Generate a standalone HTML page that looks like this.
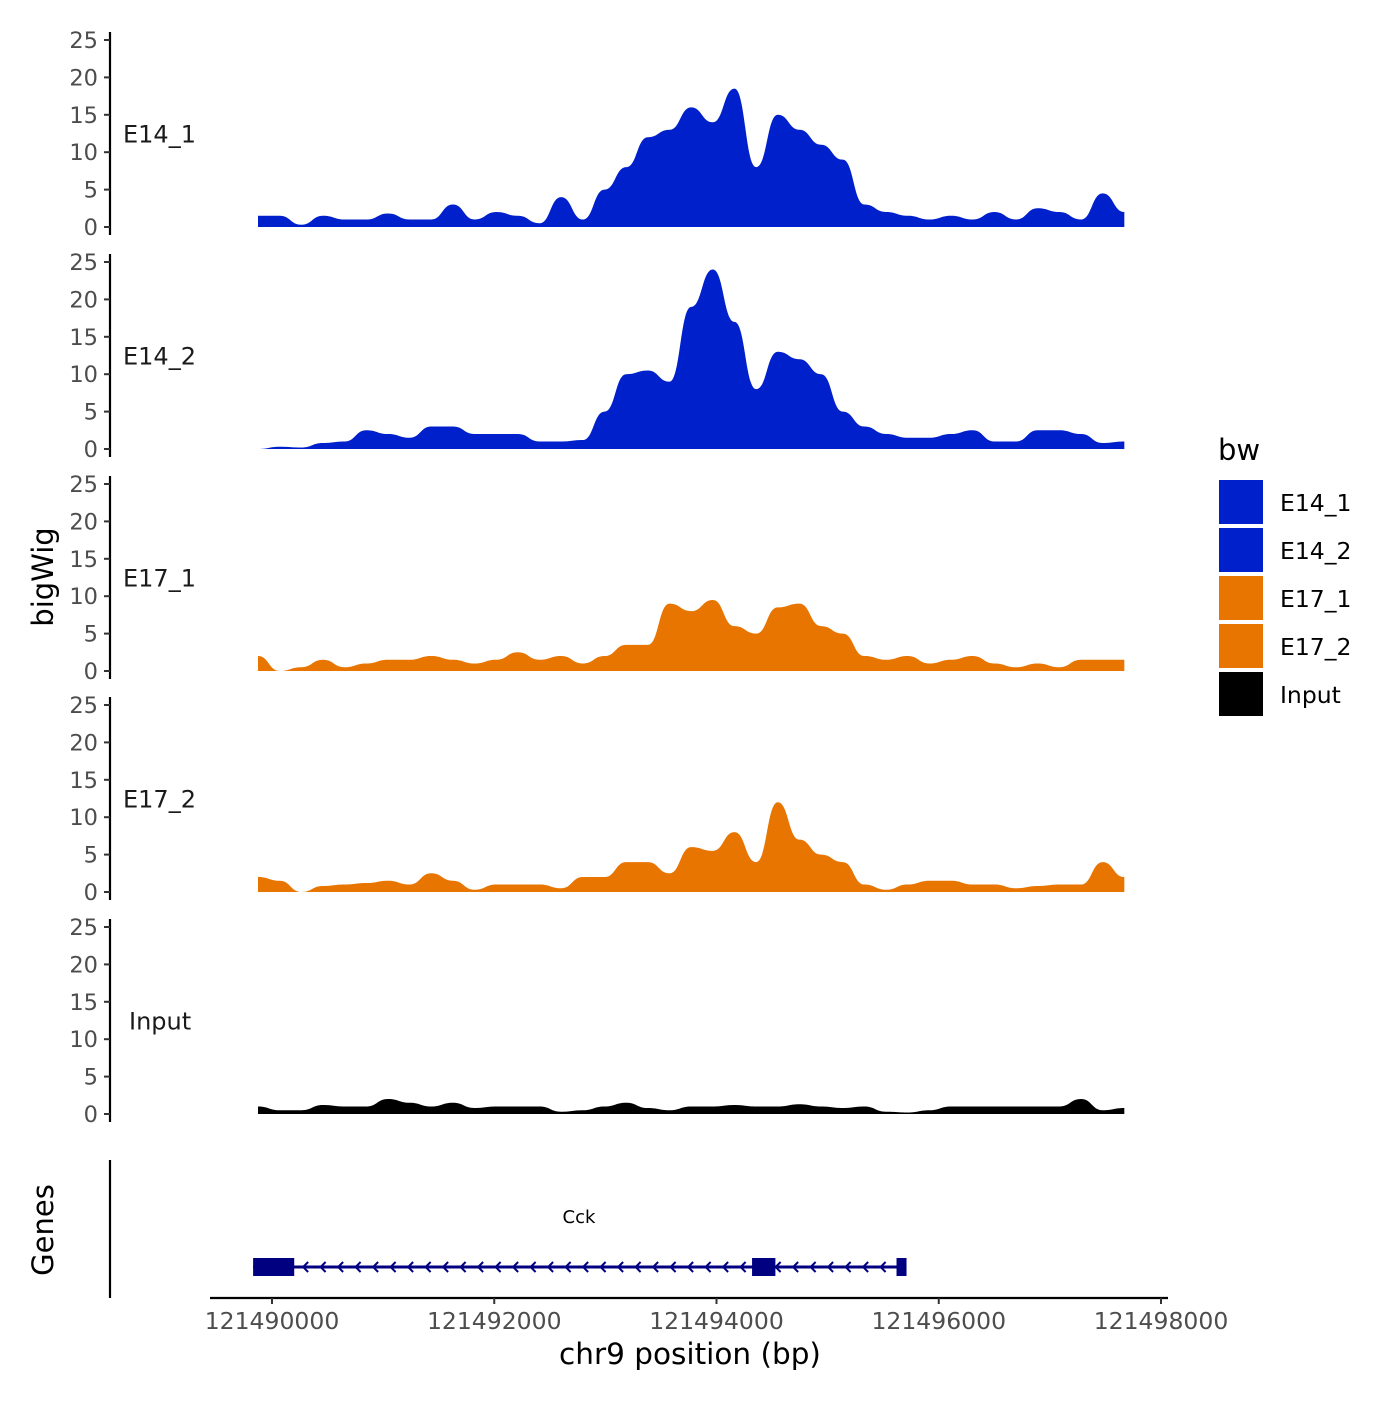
<!DOCTYPE html>
<html><head><meta charset="utf-8">
<style>
body{margin:0;background:#fff;}
svg text{font-family:"DejaVu Sans","Liberation Sans",sans-serif;}
</style></head>
<body>
<svg id="chart" width="1400" height="1400" xmlns="http://www.w3.org/2000/svg">
<rect width="1400" height="1400" fill="#fff"/>
</svg>
<script>
const trackNames = ["E14_1","E14_2","E17_1","E17_2","Input"];
const trackColors = ["#0020CC","#0020CC","#E87500","#E87500","#000000"];
const yTicks = [0,5,10,15,20,25];
const xTicks = [121490000,121492000,121494000,121496000,121498000];
const startBp = 121489874, endBp = 121497670;
const e14_1 = [1.5,1.5,0.3,1.5,1,1,1.8,1,1,3,1,2,1.5,0.5,4,1,5,8,12,13,16,14,18.5,8,15,13,11,9,3,2,1.5,1,1.5,1,2,1,2.5,2,1,4.5,2];
const e14_2 = [0,0.3,0.2,0.8,1,2.5,2,1.5,3,3,2,2,2,1,1,1.2,5,10,10.5,9,19,24,17,8,13,12,10,5,3,2,1.5,1.5,2,2.5,1,1,2.5,2.5,2,0.8,1];
const e17_1 = [2,0,0.5,1.5,0.5,1,1.5,1.5,2,1.5,1,1.5,2.5,1.5,2,1,2,3.5,3.5,9,8,9.5,6,5,8.5,9,6,5,2,1.5,2,1,1.5,2,1,0.5,1,0.5,1.5,1.5,1.5];
const e17_2 = [2,1.5,0,0.8,1,1.2,1.5,1,2.5,1.5,0.3,1,1,1,0.5,2,2,4,4,2.5,6,5.5,8,4,12,7,5,4,1,0.3,1,1.5,1.5,1,1,0.5,0.8,1,1,4,2];
const input = [1,0.5,0.5,1.2,1,1,2,1.5,1,1.5,0.8,1,1,1,0.3,0.5,1,1.5,0.8,0.5,1,1,1.2,1,1,1.3,1,0.8,1,0.3,0.2,0.5,1,1,1,1,1,1,2,0.5,0.8];
const series = [e14_1,e14_2,e17_1,e17_2,input];
const geneStart = 121489830, geneEnd = 121495710;
const exons = [[121489830,121490200],[121494320,121494530],[121495620,121495710]];

const svg = document.getElementById('chart');
const NS = "http://www.w3.org/2000/svg";
function mk(tag, attrs, parent){const e=document.createElementNS(NS,tag);for(const k in attrs)e.setAttribute(k,attrs[k]);(parent||svg).appendChild(e);return e;}
const xScale = bp => 272 + (bp-121490000)*(1161-272)/8000;
const panelZero = [227,449,671,892,1114];
const yScale = (p,v) => panelZero[p] - v*7.48;

series.forEach((vals,p)=>{
  const g = mk('g',{});
  
  
  const n = vals.length;
  const pts = vals.map((v,i)=>[xScale(startBp+(endBp-startBp)*i/(n-1)), yScale(p,v)]);
  let d = `M${pts[0][0]},${panelZero[p]} L${pts[0][0]},${pts[0][1]}`;
  for(let i=1;i<n;i++){
    const [x0,y0]=pts[i-1],[x1,y1]=pts[i];const mx=(x0+x1)/2;
    d+=` C${mx},${y0} ${mx},${y1} ${x1},${y1}`;
  }
  d+=` L${pts[n-1][0]},${panelZero[p]} Z`;
  const a = mk('path',{d,fill:trackColors[p]},g);
  
  
  const ax = mk('line',{x1:110,x2:110,y1:yScale(p,25)-8,y2:panelZero[p]+8,stroke:'#000','stroke-width':2.2},g);
  
  
  yTicks.forEach(t=>{
    const y=yScale(p,t);
    mk('line',{x1:104,x2:110,y1:y,y2:y,stroke:'#333','stroke-width':2},g);
    const tx = mk('text',{x:98,y:y+8,'text-anchor':'end','font-size':22.5,fill:'#4d4d4d'},g);
    tx.textContent=t;
    
    
  });
  const lb = mk('text',{x:p===4?129:123,y:yScale(p,12.5)+9,'font-size':24,fill:'#1a1a1a'},g);
  lb.textContent=trackNames[p];
  
  
});

const yt = mk('text',{x:0,y:0,transform:'translate(53,577) rotate(-90)','text-anchor':'middle','font-size':29});
yt.textContent='bigWig';



const gg = mk('g',{});


mk('line',{x1:110,x2:110,y1:1160,y2:1298,stroke:'#000','stroke-width':2.2},gg);
const gt = mk('text',{x:0,y:0,transform:'translate(53,1230) rotate(-90)','text-anchor':'middle','font-size':29},gg);
gt.textContent='Genes';


mk('line',{x1:xScale(geneStart),x2:xScale(geneEnd),y1:1267,y2:1267,stroke:'#000080','stroke-width':3},gg);
for(let x=xScale(geneStart)+50;x<xScale(geneEnd)-10;x+=17.5){
  mk('path',{d:`M${x+5},${1262} L${x},${1267} L${x+5},${1272}`,fill:'none',stroke:'#000080','stroke-width':2},gg);
}
exons.forEach(e=>{
  const r = mk('rect',{x:xScale(e[0]),y:1258,width:xScale(e[1])-xScale(e[0]),height:18,fill:'#000080'},gg);
  
  
});
const gl = mk('text',{x:579,y:1223,'text-anchor':'middle','font-size':18},gg);
gl.textContent='Cck';



const xg = mk('g',{});


mk('line',{x1:210,x2:1168,y1:1298,y2:1298,stroke:'#000','stroke-width':2.2},xg);
xTicks.forEach(t=>{
  const x=xScale(t);
  mk('line',{x1:x,x2:x,y1:1298,y2:1304,stroke:'#333','stroke-width':2},xg);
  const tx=mk('text',{x,y:1329,'text-anchor':'middle','font-size':23.5,fill:'#4d4d4d'},xg);
  tx.textContent=t;
  
  
});
const xt = mk('text',{x:690,y:1364,'text-anchor':'middle','font-size':29.5});
xt.textContent='chr9 position (bp)';



const lg = mk('g',{});


const lt = mk('text',{x:1218,y:460,'font-size':29},lg);
lt.textContent='bw';


trackNames.forEach((n,i)=>{
  const y=480+i*48;
  const r=mk('rect',{x:1219,y,width:44,height:44,fill:trackColors[i]},lg);
  
  
  const t=mk('text',{x:1280,y:y+31,'font-size':23.5},lg);
  t.textContent=n;
  
  
});
</script>
</body></html>
